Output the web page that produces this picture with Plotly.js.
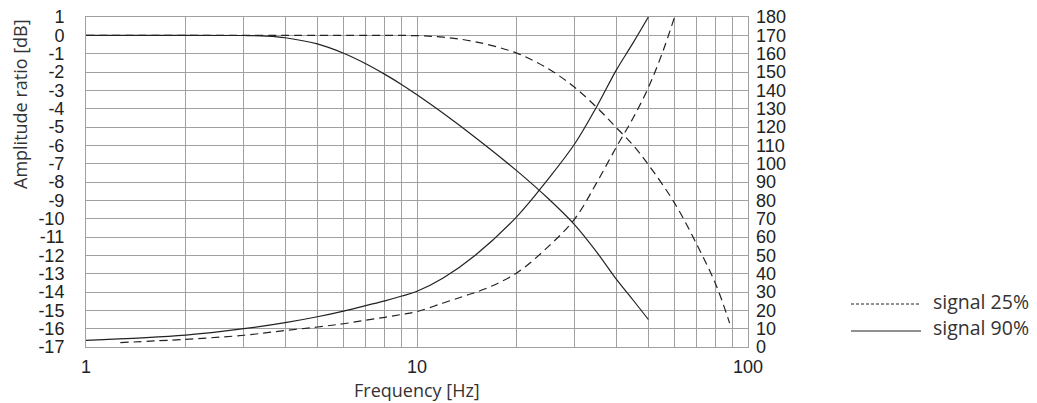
<!DOCTYPE html>
<html>
<head>
<meta charset="utf-8">
<script src="https://cdn.plot.ly/plotly-3.0.1.min.js"></script>
<style>html,body{margin:0;padding:0;background:#fff;}#chart{width:1037px;height:403px;}</style>
</head>
<body>
<div id="chart"></div>
<script>
// ---- data ----
const freqAmp90 = [1, 2, 3, 3.5, 4, 5, 6, 7, 8, 9, 10, 12, 15, 20, 25, 30, 35, 40, 45, 50];
const amp90 = [0, 0, -0.01, -0.04, -0.13, -0.47, -0.98, -1.55, -2.13, -2.69, -3.24, -4.25, -5.57, -7.38, -8.93, -10.35, -11.85, -13.3, -14.45, -15.5];

const freqAmp25 = [1, 2, 5, 8, 10, 12, 15, 20, 25, 30, 35, 40, 45, 50, 60, 70, 80, 88];
const amp25 = [0, 0, 0, 0, -0.02, -0.1, -0.35, -0.97, -1.84, -2.85, -3.95, -5.03, -6.0, -7.05, -9.15, -11.4, -13.6, -15.7];

const freqPhase90 = [1, 2, 3, 4, 5, 6, 7, 8, 9, 10, 12, 15, 20, 25, 30, 35, 40, 45, 50];
const phase90 = [3.6, 6.5, 10, 13.3, 16.5, 19.6, 22.6, 25.2, 27.8, 30.4, 37.6, 50, 71, 92, 111, 131.5, 151, 166, 180];

const freqPhase25 = [1.27, 2, 3, 4, 5, 6, 7, 8, 9, 10, 12, 14, 16, 20, 25, 30, 35, 40, 45, 50, 55, 60];
const phase25 = [2.4, 4.2, 6.4, 9.0, 10.9, 12.7, 14.6, 16.2, 17.8, 19.3, 24, 28, 31.6, 40.4, 55, 70, 90, 109, 125, 141.5, 160, 180];

const freqGrid = [1,2,3,4,5,6,7,8,9,10,20,30,40,50,60,70,80,90,100];
const freqLabels = ['1','','','','','','','','','10','','','','','','','','','100'];
const dbTicks = [1,0,-1,-2,-3,-4,-5,-6,-7,-8,-9,-10,-11,-12,-13,-14,-15,-16,-17];
const dbLabels = ['1','0','-1','-2','-3','-4','-5','-6','-7','-8','-9','-10','-11','-12','-13','-14','-15','-16','-17'];
const phaseTicks = [0,10,20,30,40,50,60,70,80,90,100,110,120,130,140,150,160,170,180];
const seriesNames = ['signal 25%', 'signal 90%'];
const xTitle = 'Frequency [Hz]';
const yTitle = 'Amplitude ratio [dB]';

// ---- styles ----
const lineColor = '#222';
const gridColor = '#a0a0a0';
const tickFont = {family: 'Liberation Sans Narrow, Arial Narrow, Liberation Sans, sans-serif', size: 18, color: '#222'};
const titleFont = {family: 'Open Sans, Noto Sans, sans-serif', size: 18, color: '#333'};
const legendFont = {family: 'Open Sans, Noto Sans, sans-serif', size: 19.5, color: '#333'};
const dash25 = '8px,5px';
const sp = {shape: 'spline', smoothing: 1};

const traces = [
  {x: freqAmp25, y: amp25, mode: 'lines', line: Object.assign({color: lineColor, width: 1.2, dash: dash25}, sp), xaxis: 'x', yaxis: 'y', showlegend: false, hoverinfo: 'skip'},
  {x: freqAmp90, y: amp90, mode: 'lines', line: Object.assign({color: lineColor, width: 1.2}, sp), xaxis: 'x', yaxis: 'y', showlegend: false, hoverinfo: 'skip'},
  {x: freqPhase25, y: phase25, mode: 'lines', line: Object.assign({color: lineColor, width: 1.2, dash: dash25}, sp), xaxis: 'x', yaxis: 'y2', showlegend: false, hoverinfo: 'skip'},
  {x: freqPhase90, y: phase90, mode: 'lines', line: Object.assign({color: lineColor, width: 1.2}, sp), xaxis: 'x', yaxis: 'y2', showlegend: false, hoverinfo: 'skip'}
];

const layout = {
  width: 1037, height: 403,
  margin: {l: 86, r: 289, t: 17, b: 56, pad: 0},
  paper_bgcolor: '#fff', plot_bgcolor: '#fff',
  font: tickFont,
  xaxis: {
    type: 'log', range: [0, 2],
    tickmode: 'array', tickvals: freqGrid, ticktext: freqLabels,
    showgrid: true, gridcolor: gridColor, gridwidth: 1,
    showline: true, linecolor: gridColor, linewidth: 1, mirror: true,
    ticks: '', ticklabelstandoff: 3, zeroline: false,
    tickfont: tickFont
  },
  yaxis: {
    range: [-17, 1], tickmode: 'array', tickvals: dbTicks, ticktext: dbLabels,
    showgrid: true, gridcolor: gridColor, gridwidth: 1,
    showline: true, linecolor: gridColor, mirror: true,
    ticks: '', ticklabelstandoff: 17, zeroline: false, tickfont: tickFont
  },
  yaxis2: {
    range: [0, 180], overlaying: 'y', side: 'right',
    tickmode: 'array', tickvals: phaseTicks,
    showgrid: false, zeroline: false, showline: false,
    ticks: '', ticklabelstandoff: 7, tickfont: tickFont
  },
  annotations: [
    {text: xTitle, xref: 'paper', yref: 'paper', x: 0.5, y: (347 - 390) / 330,
     xanchor: 'center', yanchor: 'middle', showarrow: false, font: titleFont},
    {text: yTitle, textangle: -90, xref: 'paper', yref: 'paper', x: 0, y: (347 - 104) / 330,
     xanchor: 'center', yanchor: 'middle', xshift: -66, showarrow: false, font: titleFont},
    {text: seriesNames[0], xref: 'paper', yref: 'paper', x: 1, y: (347 - 301) / 330, xshift: 183,
     xanchor: 'left', yanchor: 'middle', showarrow: false, font: legendFont},
    {text: seriesNames[1], xref: 'paper', yref: 'paper', x: 1, y: (347 - 327) / 330, xshift: 183,
     xanchor: 'left', yanchor: 'middle', showarrow: false, font: legendFont}
  ],
  shapes: [
    {type: 'line', xref: 'paper', yref: 'paper', x0: (851 - 86) / 662, x1: (921 - 86) / 662,
     y0: (347 - 304) / 330, y1: (347 - 304) / 330, line: {color: lineColor, width: 1, dash: '3px,2px'}},
    {type: 'line', xref: 'paper', yref: 'paper', x0: (851 - 86) / 662, x1: (921 - 86) / 662,
     y0: (347 - 331) / 330, y1: (347 - 331) / 330, line: {color: lineColor, width: 1.2}}
  ],
  showlegend: false
};

Plotly.newPlot('chart', traces, layout, {staticPlot: true, displayModeBar: false});
</script>
</body>
</html>
